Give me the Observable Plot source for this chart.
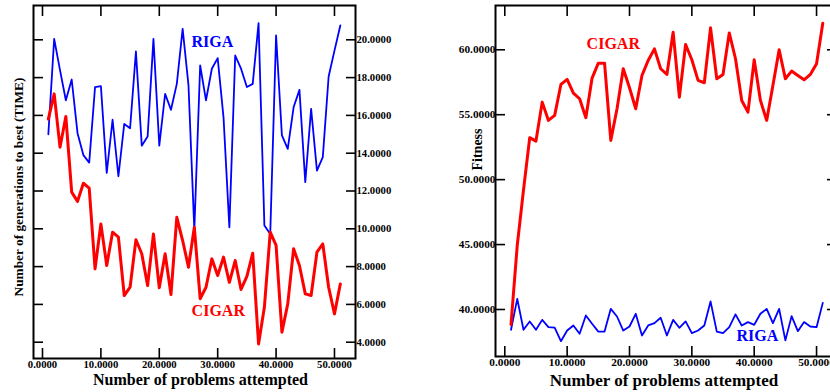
<!DOCTYPE html>
<html>
<head>
<meta charset="utf-8">
<script src="https://cdn.jsdelivr.net/npm/d3@7"></script>
<script src="https://cdn.jsdelivr.net/npm/@observablehq/plot@0.6"></script>
<style>
  html, body { margin: 0; padding: 0; background: #fff; overflow: hidden; }
  #wrap { position: relative; width: 830px; height: 392px; overflow: hidden; }
  #wrap svg { position: absolute; top: 0; }
</style>
</head>
<body>
<div id="wrap"></div>
<script>
// ---- data ----
const problems = [1,2,3,4,5,6,7,8,9,10,11,12,13,14,15,16,17,18,19,20,21,22,23,24,25,26,27,28,29,30,31,32,33,34,35,36,37,38,39,40,41,42,43,44,45,46,47,48,49,50,51];

const rigaTime = [15.0,20.05,18.4,16.8,17.9,15.06,13.9,13.5,17.5,17.55,12.96,15.77,12.78,15.55,15.32,19.38,14.4,14.88,20.05,14.4,17.14,16.3,17.67,20.58,17.6,9.95,18.64,16.8,18.47,19.03,15.9,10.08,19.17,18.47,17.5,17.67,20.88,10.17,9.73,20.23,14.94,14.23,16.43,17.35,12.47,16.35,13.08,13.79,18.06,19.43,20.76];

const cigarTime = [15.8,17.14,14.32,15.94,11.94,11.45,12.41,12.15,7.88,10.26,8.06,9.82,9.56,6.47,6.91,9.42,8.68,7.0,9.73,6.88,8.68,6.52,10.61,9.38,7.97,10.08,6.3,6.91,8.41,7.53,8.5,7.17,8.32,6.79,7.48,8.71,3.91,5.86,9.82,9.12,4.53,6.03,8.94,8.06,6.56,6.47,8.77,9.2,6.91,5.5,7.08];

const cigarFit = [38.85,44.95,49.2,53.23,52.97,55.97,54.56,54.95,57.33,57.72,56.67,56.23,54.77,57.82,58.97,58.97,53.02,55.46,58.54,57.08,55.46,58.02,59.18,60.07,58.54,58.1,61.35,56.35,60.41,59.23,57.64,57.46,61.69,57.77,58.1,61.3,59.31,56.1,55.2,59.23,56.1,54.56,57.25,60.0,57.77,58.36,58.02,57.69,58.1,58.92,62.05];

const rigaFit = [38.44,40.82,38.44,39.08,38.44,39.2,38.64,38.6,37.56,38.38,38.77,38.13,39.54,38.9,38.3,38.3,40.05,39.46,38.38,38.69,39.67,38.0,38.77,38.95,39.36,38.0,39.2,38.59,39.08,38.18,38.38,38.77,40.62,38.3,38.18,38.64,39.62,38.77,39.03,38.82,39.67,40.05,38.95,40.05,37.62,39.49,38.33,39.03,38.69,38.64,40.51];

const xTicks = [0, 10, 20, 30, 40, 50];
const timeTicks = [4, 6, 8, 10, 12, 14, 16, 18, 20];
const fitTicks = [40, 45, 50, 55, 60];

const xTitle = "Number of problems attempted";
const timeTitle = "Number of generations to best (TIME)";
const fitTitle = "Fitness";

// ---- tables ----
const timeRows = problems.map((p, i) => ({p, riga: rigaTime[i], cigar: cigarTime[i]}));
const fitRows = problems.map((p, i) => ({p, riga: rigaFit[i], cigar: cigarFit[i]}));

const fmt = d3.format(".4f");
const serif = "'Liberation Serif', 'DejaVu Serif', serif";
const RED = "#ff0000", BLUE = "#0000ff";

// ---- left panel ----
const left = Plot.plot({
  width: 420, height: 392,
  marginLeft: 33, marginRight: 65, marginTop: 5, marginBottom: 34,
  style: {fontFamily: serif, fontWeight: "bold", fontSize: "10.7px", background: "transparent", color: "#000"},
  x: {type: "linear", domain: [-1.54, 53.6]},
  y: {type: "linear", domain: [3.138, 21.815]},
  marks: [
    Plot.axisX(xTicks, {anchor: "bottom", tickSize: 10, insetBottom: 10, tickPadding: 2, tickFormat: fmt, label: null, strokeWidth: 1.6}),
    Plot.axisX(xTicks, {anchor: "top", tickSize: 10, insetTop: 10, tickFormat: () => "", label: null, strokeWidth: 1.6}),
    Plot.axisY(timeTicks, {anchor: "right", tickSize: 10, insetRight: 10, tickPadding: 1, tickFormat: fmt, label: null, textAnchor: "start", strokeWidth: 1.6}),
    Plot.axisY(timeTicks, {anchor: "left", tickSize: 10, insetLeft: 10, tickFormat: () => "", label: null, strokeWidth: 1.6}),
    Plot.line(timeRows, {x: "p", y: "riga", stroke: BLUE, strokeWidth: 1.8}),
    Plot.line(timeRows, {x: "p", y: "cigar", stroke: RED, strokeWidth: 3}),
    Plot.text(["RIGA"], {x: 29.1, y: 19.9, fill: BLUE, fontSize: 16, fontWeight: "bold", fontFamily: serif}),
    Plot.text(["CIGAR"], {x: 30.1, y: 5.68, fill: RED, fontSize: 16, fontWeight: "bold", fontFamily: serif}),
    Plot.text([xTitle], {frameAnchor: "bottom", textAnchor: "middle", dx: 6, dy: 21, lineAnchor: "middle", fontSize: 16, fontWeight: "bold", fontFamily: serif}),
    Plot.text([timeTitle], {frameAnchor: "left", textAnchor: "middle", dx: -15, dy: 5, rotate: -90, lineAnchor: "middle", fontSize: 13.3, fontWeight: "bold", fontFamily: serif}),
    Plot.frame({stroke: "#000", strokeWidth: 2})
  ]
});
left.style.left = "0px";

// ---- right panel ----
const right = Plot.plot({
  width: 420, height: 392,
  marginLeft: 75, marginRight: 4, marginTop: 5, marginBottom: 36,
  style: {fontFamily: serif, fontWeight: "bold", fontSize: "11.3px", background: "transparent", color: "#000"},
  x: {type: "linear", domain: [-1.49, 53.2]},
  y: {type: "linear", domain: [36.38, 63.41]},
  marks: [
    Plot.axisX(xTicks, {anchor: "bottom", tickSize: 10, insetBottom: 10, tickPadding: 1, tickFormat: fmt, label: null, strokeWidth: 1.6}),
    Plot.axisX(xTicks, {anchor: "top", tickSize: 10, insetTop: 10, tickFormat: () => "", label: null, strokeWidth: 1.6}),
    Plot.axisY(fitTicks, {anchor: "left", tickSize: 10, insetLeft: 10, tickPadding: 0, tickFormat: fmt, label: null, strokeWidth: 1.6}),
    Plot.axisY(fitTicks, {anchor: "right", tickSize: 10, insetRight: 10, tickFormat: () => "", label: null, strokeWidth: 1.6}),
    Plot.line(fitRows, {x: "p", y: "riga", stroke: BLUE, strokeWidth: 1.8}),
    Plot.line(fitRows, {x: "p", y: "cigar", stroke: RED, strokeWidth: 3}),
    Plot.text(["CIGAR"], {x: 17.4, y: 60.48, fill: RED, fontSize: 16, fontWeight: "bold", fontFamily: serif}),
    Plot.text(["RIGA"], {x: 40.5, y: 37.98, fill: BLUE, fontSize: 16, fontWeight: "bold", fontFamily: serif}),
    Plot.text([xTitle], {frameAnchor: "bottom", textAnchor: "middle", dx: -2, dy: 24, lineAnchor: "middle", fontSize: 17, fontWeight: "bold", fontFamily: serif}),
    Plot.text([fitTitle], {frameAnchor: "left", textAnchor: "middle", dx: -18, dy: -31.5, rotate: -90, lineAnchor: "middle", fontSize: 14, fontWeight: "bold", fontFamily: serif}),
    Plot.frame({stroke: "#000", strokeWidth: 2})
  ]
});
right.style.left = "420px";

const wrap = document.getElementById("wrap");
wrap.appendChild(left);
wrap.appendChild(right);
</script>
</body>
</html>
